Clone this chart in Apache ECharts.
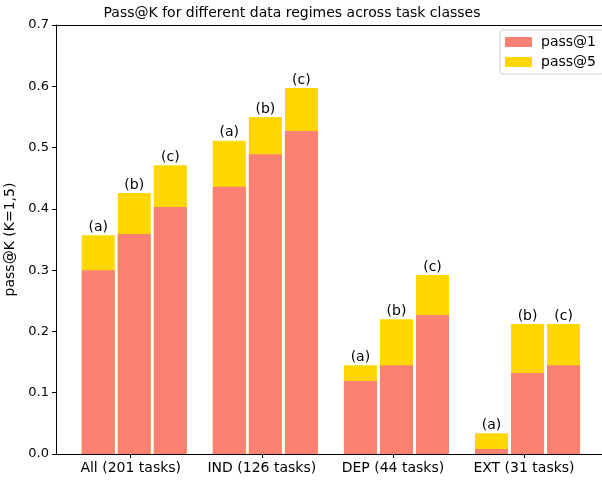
<!DOCTYPE html>
<html>
<head>
<meta charset="utf-8">
<script src="https://cdn.jsdelivr.net/npm/echarts@6/dist/echarts.min.js"></script>
<style>
  html, body { margin: 0; padding: 0; background: #fff; }
  #chart { width: 602px; height: 481px; }
</style>
</head>
<body>
<div id="chart"></div>
<script>
// task classes on x, three data regimes per class
const groups = ['All (201 tasks)', 'IND (126 tasks)', 'DEP (44 tasks)', 'EXT (31 tasks)'];
const regimes = ['(a)', '(b)', '(c)'];
// one row per task class, one value per regime
const pass1 = [
  [0.300, 0.359, 0.403],
  [0.436, 0.489, 0.527],
  [0.119, 0.145, 0.227],
  [0.008, 0.132, 0.145]
];
const pass5 = [
  [0.357, 0.426, 0.471],
  [0.511, 0.550, 0.597],
  [0.145, 0.220, 0.292],
  [0.034, 0.212, 0.212]
];
const yTicks = [0, 0.1, 0.2, 0.3, 0.4, 0.5, 0.6, 0.7];

// bar offsets inside a group (axis units)
const offsets = [-0.248, 0.027, 0.302];
const font = 'DejaVu Sans';

function toPoints(rows) {
  const out = [];
  rows.forEach((row, g) => {
    row.forEach((v, i) => out.push([g + offsets[i], v]));
  });
  return out;
}

const chart = echarts.init(document.getElementById('chart'));
const option = {
  animation: false,
  textStyle: { fontFamily: font },
  title: {
    text: 'Pass@K for different data regimes across task classes',
    left: 287, top: 1, textAlign: 'center',
    textStyle: { fontFamily: font, fontSize: 14, fontWeight: 'normal', color: '#000' }
  },
  legend: {
    data: ['pass@1', 'pass@5'],
    orient: 'vertical',
    left: 500, top: 30,
    padding: [5, 8, 5, 5],
    itemWidth: 27, itemHeight: 10, itemGap: 6,
    borderColor: '#d0d0d0', borderWidth: 1, borderRadius: 3,
    icon: 'rect',
    textStyle: { fontFamily: font, fontSize: 14, color: '#000', padding: [0, 0, 0, 4] }
  },
  grid: { left: 56, right: 0, top: 25, bottom: 27, outerBoundsMode: 'none' },
  xAxis: [{
    type: 'value', min: -0.57, max: 3.595,
    splitLine: { show: false },
    axisLine: { onZero: false, lineStyle: { color: '#000' } },
    axisTick: { customValues: [0, 1, 2, 3], length: 4, lineStyle: { color: '#000' } },
    axisLabel: {
      customValues: [0, 1, 2, 3],
      formatter: v => groups[Math.round(v)],
      fontFamily: font, fontSize: 14, color: '#000', margin: 7
    }
  }, {
    type: 'value', position: 'top', min: -0.57, max: 3.595,
    splitLine: { show: false },
    axisLine: { show: true, onZero: false, lineStyle: { color: '#000' } },
    axisTick: { show: false }, axisLabel: { show: false }
  }],
  yAxis: {
    type: 'value', min: 0, max: 0.7, interval: 0.1,
    name: 'pass@K (K=1,5)', nameLocation: 'middle', nameGap: 36,
    nameTextStyle: { fontFamily: font, fontSize: 14, color: '#000' },
    splitLine: { show: false },
    axisLine: { show: true, onZero: false, lineStyle: { color: '#000' } },
    axisTick: { show: true, length: 4, lineStyle: { color: '#000' } },
    axisLabel: {
      formatter: v => yTicks.includes(+v.toFixed(1)) ? v.toFixed(1) : '',
      fontFamily: font, fontSize: 13, color: '#000', margin: 7
    }
  },
  series: [{
    name: 'pass@5', type: 'bar', xAxisIndex: 0,
    data: toPoints(pass5), barWidth: 33, barGap: '-100%',
    itemStyle: { color: '#FFD700' },
    label: {
      show: true, position: 'top', distance: 1,
      formatter: p => regimes[p.dataIndex % 3],
      fontFamily: font, fontSize: 14, color: '#000'
    },
    z: 2
  }, {
    name: 'pass@1', type: 'bar', xAxisIndex: 0,
    data: toPoints(pass1), barWidth: 33, barGap: '-100%',
    itemStyle: { color: '#FA8072' },
    z: 3
  }]
};
chart.setOption(option);
</script>
</body>
</html>
